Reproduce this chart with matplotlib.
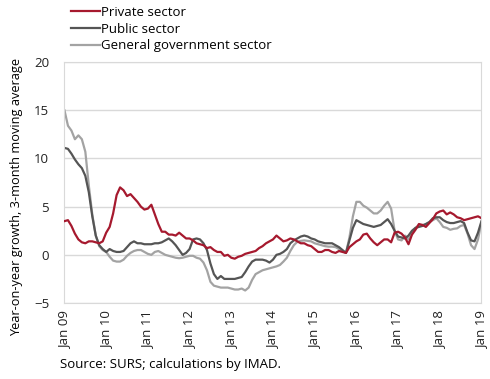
import numpy as np
import pandas as pd
import matplotlib
matplotlib.use("Agg")
import matplotlib.pyplot as plt

plt.rcParams["font.family"] = ["Open Sans", "DejaVu Sans"]

# monthly data, Jan 2009 - Jan 2019
months = pd.date_range("2009-01-01", "2019-01-01", freq="MS")

private = [
    3.5, 3.6, 3.0, 2.2, 1.6, 1.3, 1.2, 1.4, 1.4, 1.3, 1.2, 1.4,
    2.3, 2.9, 4.3, 6.2, 7.0, 6.7, 6.1, 6.3, 5.9, 5.5, 5.0, 4.7,
    4.8, 5.2, 4.2, 3.2, 2.4, 2.4, 2.1, 2.1, 2.0, 2.3, 2.0, 1.7,
    1.7, 1.5, 1.2, 1.1, 1.0, 0.7, 0.8, 0.5, 0.3, 0.3, -0.1, 0.0,
    -0.3, -0.4, -0.2, -0.1, 0.1, 0.2, 0.3, 0.4, 0.7, 0.9, 1.2, 1.4,
    1.6, 2.0, 1.7, 1.4, 1.5, 1.7, 1.6, 1.4, 1.2, 1.2, 1.0, 0.9,
    0.6, 0.3, 0.3, 0.5, 0.5, 0.3, 0.2, 0.4, 0.3, 0.2, 0.8, 1.1,
    1.4, 1.6, 2.1, 2.2, 1.7, 1.3, 1.0, 1.3, 1.6, 1.6, 1.3, 2.3,
    2.4, 2.2, 1.8, 1.1, 2.1, 2.6, 3.2, 3.1, 2.9, 3.3, 3.7, 4.3,
    4.5, 4.6, 4.2, 4.4, 4.2, 3.9, 3.8, 3.6, 3.7, 3.8, 3.9, 4.0,
    3.8,
]

public = [
    11.1, 11.0, 10.5, 9.9, 9.4, 9.0, 8.2, 6.5, 4.0, 2.0, 1.0, 0.6,
    0.3, 0.6, 0.4, 0.3, 0.3, 0.4, 0.8, 1.2, 1.4, 1.2, 1.2, 1.1,
    1.1, 1.1, 1.2, 1.2, 1.3, 1.5, 1.7, 1.4, 1.0, 0.5, 0.0, 0.2,
    0.6, 1.6, 1.7, 1.6, 1.2, 0.5, -0.9, -2.0, -2.5, -2.2, -2.5, -2.5,
    -2.5, -2.5, -2.4, -2.3, -1.8, -1.2, -0.7, -0.5, -0.5, -0.5, -0.6, -0.8,
    -0.5, 0.0, 0.1, 0.3, 0.6, 1.2, 1.5, 1.7, 1.9, 2.0, 1.9, 1.7,
    1.6, 1.4, 1.3, 1.2, 1.2, 1.2, 1.0, 0.8, 0.5, 0.2, 1.5, 2.8,
    3.6, 3.4, 3.2, 3.1, 3.0, 2.9, 3.0, 3.1, 3.4, 3.7, 3.2, 2.5,
    1.9, 1.8, 1.7, 2.0, 2.5, 2.8, 2.9, 3.0, 3.2, 3.4, 3.8, 3.9,
    3.9, 3.6, 3.4, 3.3, 3.3, 3.4, 3.5, 3.3, 2.3, 1.5, 1.4, 2.3,
    3.5,
]

general_gov = [
    15.0, 13.4, 12.9, 12.0, 12.4, 12.0, 10.7, 7.2, 4.2, 2.0, 0.9, 0.5,
    0.3, -0.2, -0.6, -0.7, -0.7, -0.5, -0.1, 0.2, 0.4, 0.5, 0.5, 0.3,
    0.1, 0.0, 0.3, 0.4, 0.2, 0.0, -0.1, -0.2, -0.3, -0.35, -0.3, -0.2,
    -0.1, -0.1, -0.3, -0.4, -0.8, -1.6, -2.8, -3.2, -3.3, -3.4, -3.4, -3.4,
    -3.5, -3.6, -3.6, -3.5, -3.7, -3.4, -2.6, -2.0, -1.8, -1.6, -1.5, -1.4,
    -1.3, -1.2, -1.05, -0.7, -0.3, 0.4, 1.0, 1.35, 1.45, 1.5, 1.45, 1.4,
    1.2, 1.1, 1.0, 0.9, 0.85, 0.85, 0.8, 0.6, 0.4, 0.2, 1.8, 4.0,
    5.5, 5.5, 5.1, 4.9, 4.6, 4.3, 4.3, 4.6, 5.1, 5.5, 4.8, 2.5,
    1.6, 1.5, 2.0, 1.6, 2.2, 2.8, 3.1, 3.1, 3.2, 3.4, 3.6, 3.8,
    3.4, 2.9, 2.8, 2.6, 2.7, 2.75, 3.0, 3.1, 2.2, 1.0, 0.6, 1.6,
    3.4,
]

tick_labels = ["Jan 09", "Jan 10", "Jan 11", "Jan 12", "Jan 13", "Jan 14",
               "Jan 15", "Jan 16", "Jan 17", "Jan 18", "Jan 19"]

fig = plt.figure(figsize=(4.9, 3.79), dpi=100)
ax = fig.add_axes([0.1316, 0.2005, 0.851, 0.6355])

x = np.arange(len(months))
ax.plot(x, private, color="#a6192e", lw=1.6, label="Private sector", zorder=3)
ax.plot(x, public, color="#555555", lw=1.6, label="Public sector", zorder=2)
ax.plot(x, general_gov, color="#a3a3a3", lw=1.6, label="General government sector", zorder=1)

ax.set_xlim(0, 120)
ax.set_ylim(-5, 20)
ax.set_yticks([-5, 0, 5, 10, 15, 20])
ax.set_xticks(np.arange(0, 121, 12))
ax.set_xticklabels(tick_labels, rotation=90)
ax.tick_params(length=0, labelsize=9.5, colors="#222222")
ax.tick_params(axis="y", pad=11)
ax.tick_params(axis="x", pad=6)
ax.grid(axis="y", color="#d9d9d9", lw=1)
ax.set_axisbelow(True)
for s in ax.spines.values():
    s.set_color("#d9d9d9")

fig.legend(loc="upper left", bbox_to_anchor=(0.135, 0.998), frameon=False,
           fontsize=9.5, handlelength=2.2, handletextpad=0.05,
           labelspacing=0.28, borderaxespad=0)

fig.text(0.034, 0.48, "Year-on-year growth, 3-month moving average",
         rotation=90, ha="center", va="center", fontsize=9.2)
fig.text(0.122, 0.03, "Source: SURS; calculations by IMAD.", fontsize=9.5)

fig.savefig("out.png", dpi=100)
